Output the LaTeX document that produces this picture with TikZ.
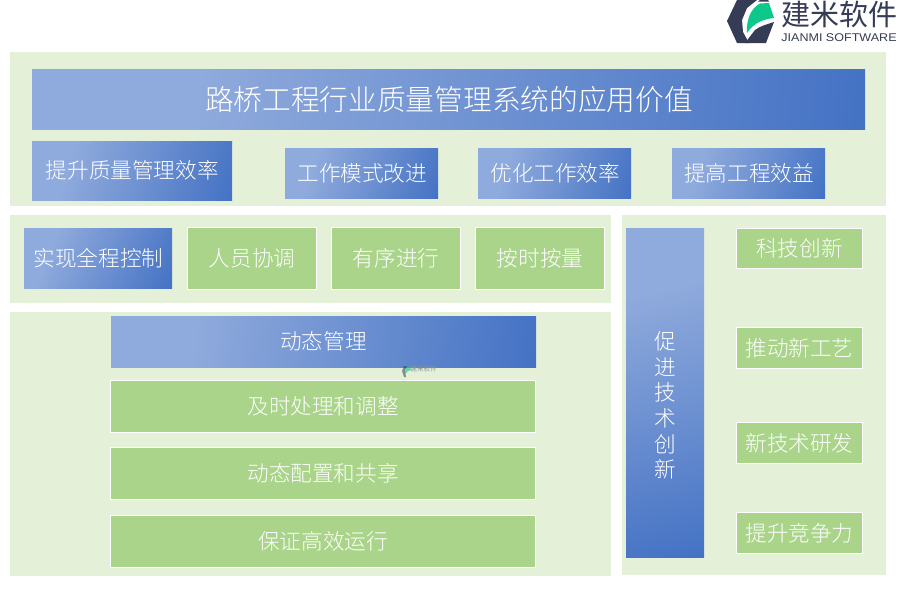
\documentclass[tikz,border=0pt]{standalone}
\usepackage{fontspec}
\usetikzlibrary{shadings}
\setmainfont{Noto Sans CJK SC}[UprightFont=* Light]
\newfontfamily\cjkreg{Noto Sans CJK SC}
\newfontfamily\lat{Liberation Sans}
\definecolor{panelc}{HTML}{E4F0D8}
\definecolor{greenc}{HTML}{A9D48A}
\definecolor{gradA}{HTML}{8FAADC}
\definecolor{gradB}{HTML}{4472C4}
\definecolor{logod}{HTML}{343C56}
\definecolor{logog}{HTML}{0CC88A}
\tikzset{
  panel/.style={fill=panelc,draw=none},
  txt/.style={text=white,font=\fontsize{#1}{#1}\selectfont,inner sep=0pt},
  txt/.default=21.6,
  greenbox/.style={fill=greenc,draw=white,line width=1pt},
}
\newcount\gradno
% diagonal gradient box at a true 45 degrees: x1,y1,x2,y2
\newcommand{\gradbox}[4]{%
  \global\advance\gradno by 1
  \pgfmathsetmacro{\gradw}{(#3-#1)/100}%
  \pgfmathsetmacro{\gradh}{(#4-#2)/100}%
  \pgfmathsetmacro{\gradk}{(\gradw+\gradh)/sqrt(\gradw*\gradw+\gradh*\gradh)}%
  \pgfmathsetmacro{\grads}{50-15*\gradk}%
  \pgfmathsetmacro{\grade}{50+25*\gradk}%
  \pgfmathsetmacro{\gradang}{-90-atan(\gradh/\gradw)}%
  \pgfdeclareverticalshading{gradsh\the\gradno}{100bp}{color(0bp)=(gradA); color(\grads bp)=(gradA); color(\grade bp)=(gradB); color(100bp)=(gradB)}%
  \shade[shading=gradsh\the\gradno,shading angle=\gradang] (#1,#2) rectangle (#3,#4-0.6);%
}
\begin{document}
\begin{tikzpicture}[x=1pt,y=-1pt]
\useasboundingbox (0,0) rectangle (900,600);
\fill[white] (0,0) rectangle (900,600);
% panels
\fill[panel] (10,52) rectangle (886,206);
\fill[panel] (10,215) rectangle (611,303);
\fill[panel] (10,312) rectangle (611,576);
\fill[panel] (622,215) rectangle (886,575);
% blue boxes
\gradbox{32}{69}{865}{130}
\node[txt=28.7] (title) at (449,99.5) {路桥工程行业质量管理系统的应用价值};
\gradbox{32}{141}{232}{201}
\node[txt] (a1) at (132.3,170) {提升质量管理效率};
\gradbox{285}{148}{438}{199}
\node[txt] (a2) at (362.3,173) {工作模式改进};
\gradbox{478}{148}{631}{199}
\node[txt] (a3) at (555.3,173) {优化工作效率};
\gradbox{672}{148}{825}{199}
\node[txt] (a4) at (749,173) {提高工程效益};
\gradbox{24}{228}{172}{289}
\node[txt] (b1) at (98.5,258.5) {实现全程控制};
\gradbox{111}{316}{536}{368}
\node[txt] (c0) at (323.5,341.5) {动态管理};
\gradbox{626}{228}{704}{558}
\node[txt,align=center] (d0) at (665.5,405.5) {促\\[4.1pt]进\\[4.1pt]技\\[4.1pt]术\\[4.1pt]创\\[4.1pt]新};
% green boxes
\node[greenbox,minimum width=129pt,minimum height=62pt,txt] (b2) at (252,258.5) {人员协调};
\node[greenbox,minimum width=129pt,minimum height=62pt,txt] (b3) at (396,258.5) {有序进行};
\node[greenbox,minimum width=129pt,minimum height=62pt,txt] (b4) at (540,258.5) {按时按量};
\node[greenbox,minimum width=425pt,minimum height=52pt,txt] (c1) at (323,406.5) {及时处理和调整};
\node[greenbox,minimum width=425pt,minimum height=52pt,txt] (c2) at (323,473.5) {动态配置和共享};
\node[greenbox,minimum width=425pt,minimum height=52pt,txt] (c3) at (323,541) {保证高效运行};
\node[greenbox,minimum width=126pt,minimum height=40pt,txt] (d1) at (799.5,248.5) {科技创新};
\node[greenbox,minimum width=126pt,minimum height=41pt,txt] (d2) at (799.5,348) {推动新工艺};
\node[greenbox,minimum width=126pt,minimum height=41pt,txt] (d3) at (799.5,443) {新技术研发};
\node[greenbox,minimum width=126pt,minimum height=41pt,txt] (d4) at (799.5,533) {提升竞争力};
% watermark
\fill[logod,opacity=.55] (402,371) -- (404,366) -- (407,366) -- (405,371) -- (406,377) -- (404,377) -- cycle;
\fill[logog,opacity=.6] (405,374) .. controls (405,369) and (407,366) .. (410,366) -- (411,370) .. controls (409,370) and (407,372) .. (405,374) -- cycle;
\node[inner sep=0pt,text=logod!50!panelc,font=\cjkreg\fontsize{6.5}{6.5}\selectfont] (wm) at (423.5,369.5) {建米软件};
% logo
\fill[logod] (727,21) -- (737,0) -- (757,0) -- (747,8) -- (742,20) -- (743,32) -- (749,43) -- (737,43) -- cycle;
\fill[logod] (745,43) -- (755,30) .. controls (760,26) and (768,24) .. (774,22) -- (766,43) -- cycle;
\fill[logod] (760,0) -- (768,0) -- (769,1.5) -- (758,1.5) -- cycle;
\fill[logog] (747,33) .. controls (746,20) and (751,8) .. (760,3.5) -- (769,3) -- (774,18) .. controls (765,19) and (754,22) .. (747,33) -- cycle;
\node[inner sep=0pt,text=logod,font=\cjkreg\fontsize{29}{29}\selectfont] (lg) at (839.5,14) {建米软件};
\node[inner sep=0pt,text=logod,font=\lat\fontsize{11.2}{11.2}\selectfont,xscale=1.12] (lgs) at (839,38) {JIANMI SOFTWARE};
\end{tikzpicture}
\end{document}
